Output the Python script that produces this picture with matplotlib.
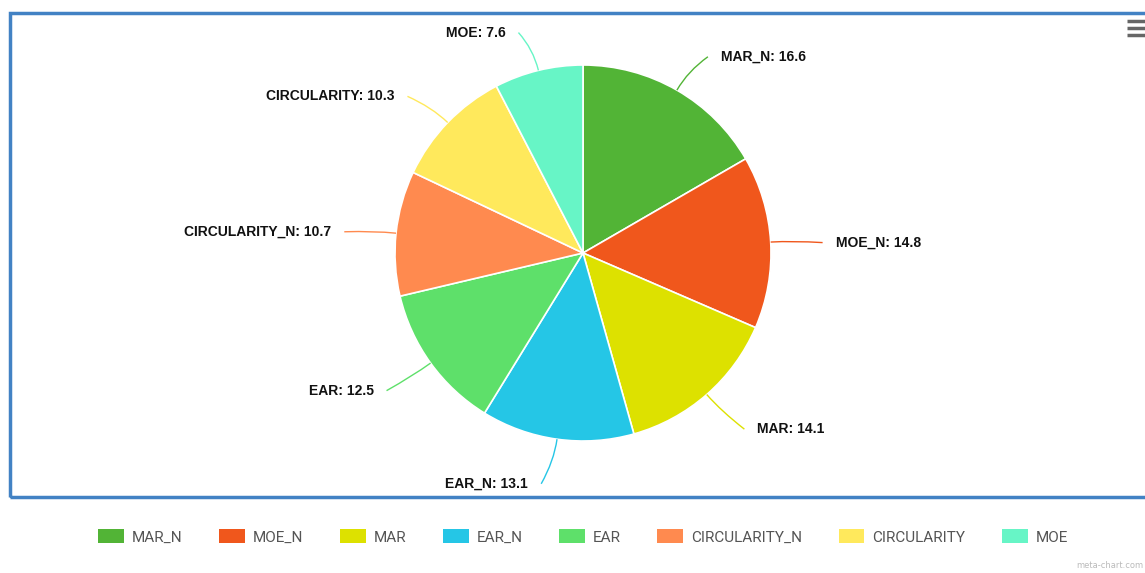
import numpy as np
import matplotlib.pyplot as plt
from matplotlib.patches import Rectangle, Patch, PathPatch
from matplotlib.path import Path

### Data
labels = ["MAR_N", "MOE_N", "MAR", "EAR_N", "EAR", "CIRCULARITY_N", "CIRCULARITY", "MOE"]
values = [16.6, 14.8, 14.1, 13.1, 12.5, 10.7, 10.3, 7.6]
colors = ["#52b436", "#f0571c", "#dde100", "#25c6e6", "#5ee06a", "#ff8a4f", "#ffe95c", "#67f5c6"]

### Layout (pixel space, y up)
W, H = 1145, 573
cx, cy, r = 583, H - 253, 188

fig = plt.figure(figsize=(W / 100, H / 100), dpi=100)
ax = fig.add_axes([0, 0, 1, 1])
wedges, _ = ax.pie(values, colors=colors, center=(cx, cy), radius=r, startangle=90,
                   counterclock=False, wedgeprops=dict(edgecolor="white", linewidth=1.2))
ax.set_xlim(0, W)
ax.set_ylim(0, H)
ax.set_aspect("equal")
ax.axis("off")

## Data labels with soft connectors
for w, lab, val, col in zip(wedges, labels, values, colors):
    a = np.deg2rad((w.theta1 + w.theta2) / 2)
    ca, sa = np.cos(a), np.sin(a)
    side = 1 if ca >= 0 else -1
    p0 = (cx + r * ca, cy + r * sa)
    p1 = (cx + (r + 22) * ca, cy + (r + 22) * sa)
    p2 = (cx + (r + 42) * ca + side * 10, cy + (r + 42) * sa - 3)
    path = Path([p0, p1, p2], [Path.MOVETO, Path.CURVE3, Path.CURVE3])
    ax.add_patch(PathPatch(path, fill=False, edgecolor=col, lw=1))
    ax.text(p2[0] + side * 13, p2[1], f"{lab}: {val}", ha="left" if side > 0 else "right",
            va="center", fontsize=10, fontweight="bold", color="#111111", family="Liberation Sans")

## Chart border
ax.add_patch(Rectangle((10, H - 497), 1150, 497 - 13, fill=False, edgecolor="#4282c4",
                       lw=2.5, clip_on=False))

## Menu icon
for yy in [21, 28, 35]:
    ax.plot([1127, 1146], [H - yy, H - yy], color="#666666", lw=2.5, solid_capstyle="butt")

## Legend
handles = [Patch(facecolor=c, label=l) for l, c in zip(labels, colors)]
leg = fig.legend(handles=handles, loc="center", bbox_to_anchor=(583 / W, 1 - 537 / H), ncol=8,
                 frameon=False, handlelength=1.7, handleheight=1.0,
                 columnspacing=2.4, handletextpad=0.5, prop={"family": "Roboto", "size": 11})
for t in leg.get_texts():
    t.set_color("#555555")

ax.text(1143, H - 566, "meta-chart.com", fontsize=6, color="#bbbbbb", va="center", ha="right")

plt.savefig("out.png", dpi=100)
